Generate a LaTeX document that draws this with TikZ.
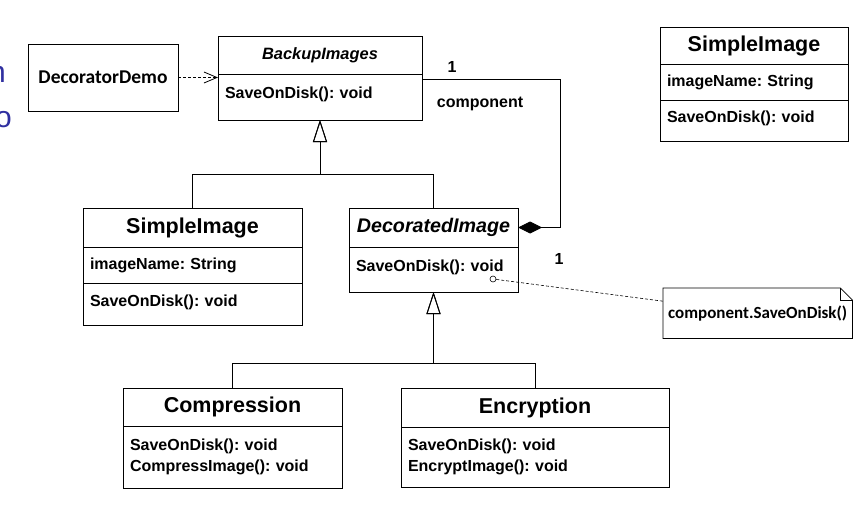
\documentclass[tikz,border=0pt]{standalone}
\usepackage{fontspec}
\setmainfont{Liberation Sans}
\newfontfamily\calibri{Carlito}
\usetikzlibrary{positioning,arrows.meta}
\definecolor{slideblue}{RGB}{48,48,160}
\frenchspacing

\tikzset{
  part/.style={draw, line width=0.9pt, inner sep=0pt, outer sep=0pt},
  namepart/.style={part, font=\bfseries\fontsize{21.5}{24}\selectfont},
  memberpart/.style={part, align=left, inner xsep=7pt, font=\bfseries\fontsize{16}{21}\selectfont},
  labeltext/.style={inner sep=0pt, font=\bfseries\fontsize{16}{19}\selectfont},
  slidetext/.style={inner sep=0pt, text=slideblue, font=\fontsize{30}{30}\selectfont},
  inherit/.style={line width=0.9pt, -{Triangle[open,length=22pt,width=14pt]}},
  compose/.style={line width=0.9pt, {Diamond[length=24pt,width=12pt]}-},
  depend/.style={line width=0.8pt, dash pattern=on 3pt off 2pt, -{Straight Barb[length=13pt,width=11pt]}},
  notelink/.style={line width=0.6pt, dash pattern=on 3pt off 2pt}
}

\begin{document}
\begin{tikzpicture}[x=1pt,y=-1pt]
\useasboundingbox (0,0) rectangle (860,514);
\clip (0,0) rectangle (860,514);

% slide text cut off at the left edge
\node[slidetext, anchor=base east] (cutN) at (6,82) {n};
\node[slidetext, anchor=base east] (cutO) at (12,127) {o};

% classes
\node[part, anchor=north west, minimum width=150pt, minimum height=67pt,
      font=\calibri\bfseries\fontsize{19.5}{22}\selectfont] (demo) at (28,44) {DecoratorDemo};

\node[part, anchor=north west, minimum width=204pt, minimum height=38pt,
      font=\bfseries\itshape\fontsize{16.4}{19}\selectfont] (bkT) at (218,36) {BackupImages};
\node[memberpart, below=0pt of bkT, text width=190pt, minimum height=46pt, text depth=9pt] (bkB) {SaveOnDisk(): void};

\node[namepart, anchor=north west, minimum width=188pt, minimum height=37pt] (siRT) at (660,27) {SimpleImage};
\node[memberpart, below=0pt of siRT, text width=174pt, minimum height=36pt] (siRA) {imageName: String};
\node[memberpart, below=0pt of siRA, text width=174pt, minimum height=41pt, text depth=7pt] (siRB) {SaveOnDisk(): void};

\node[namepart, anchor=north west, minimum width=219pt, minimum height=39pt] (siLT) at (83,208) {SimpleImage};
\node[memberpart, below=0pt of siLT, text width=205pt, minimum height=36pt] (siLA) {imageName: String};
\node[memberpart, below=0pt of siLA, text width=205pt, minimum height=42pt, text depth=6pt] (siLB) {SaveOnDisk(): void};

\node[part, anchor=north west, minimum width=169pt, minimum height=39pt,
      font=\bfseries\itshape\fontsize{19.7}{22}\selectfont] (decT) at (349,208) {DecoratedImage};
\node[memberpart, below=0pt of decT, text width=155pt, minimum height=45pt, text depth=8pt] (decB) {SaveOnDisk(): void};

\node[namepart, anchor=north west, minimum width=219pt, minimum height=38pt] (compT) at (123,388) {Compression};
\node[memberpart, below=0pt of compT, text width=205pt, minimum height=62pt] (compB) {SaveOnDisk(): void\\CompressImage(): void};

\node[namepart, anchor=north west, minimum width=268pt, minimum height=39pt] (encT) at (401,388) {Encryption};
\node[memberpart, below=0pt of encT, text width=254pt, minimum height=60pt] (encB) {SaveOnDisk(): void\\EncryptImage(): void};

% note
\node[anchor=north west, minimum width=189pt, minimum height=50pt, inner sep=0pt,
      font=\calibri\bfseries\fontsize{17}{20}\selectfont] (note) at (663,288) {component.SaveOnDisk()};
\draw[line width=0.8pt] (note.north west) -- ([xshift=-12pt]note.north east) -- ([yshift=-12pt]note.north east)
  -- (note.south east) -- (note.south west) -- cycle;
\draw[line width=0.8pt] ([xshift=-12pt]note.north east) |- ([yshift=-12pt]note.north east);
\node[circle, draw, line width=0.6pt, inner sep=0pt, minimum size=6pt] (dot) at (493,279) {};
\draw[notelink] (dot) -- ([yshift=12pt]note.west);

% connectors
\draw[depend] (demo.east) -- (demo.east -| bkB.west);
\coordinate (cmpEnd) at ([yshift=-5pt]bkB.north east);
\draw[compose] (decT.east) -- ++(42,0) |- (cmpEnd);
\draw[inherit] (siLT.north) -- ++(0,-34) -| (bkB.south);
\draw[inherit] (decT.north) -- ++(0,-34) -| (bkB.south);
\draw[inherit] (compT.north) -- ++(0,-25) -| (decB.south);
\draw[inherit] (encT.north) -- ++(0,-25) -| (decB.south);

% association labels
\node[labeltext] (multTop) at (452,67) {1};
\node[labeltext] (roleName) at (480,104) {component};
\node[labeltext] (multBot) at (559,259) {1};
\end{tikzpicture}
\end{document}
